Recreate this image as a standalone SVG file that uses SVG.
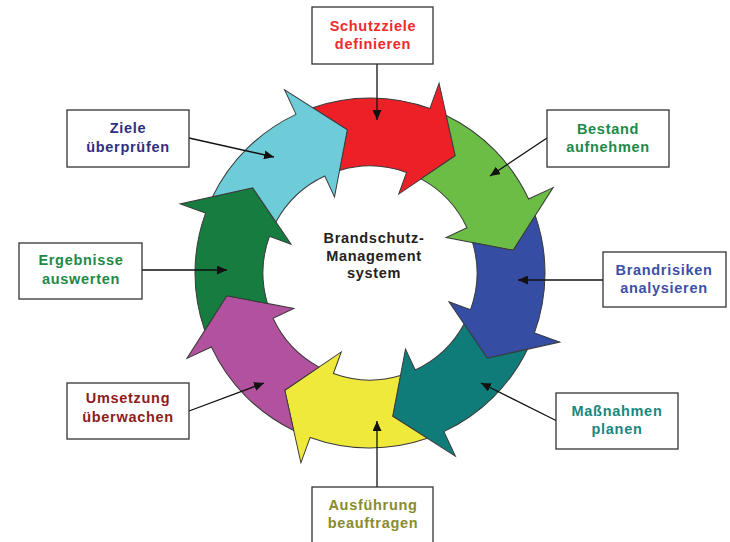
<svg xmlns="http://www.w3.org/2000/svg" width="730" height="542" viewBox="0 0 730 542">
<style>
.seg{stroke:#3a3a3a;stroke-width:1;stroke-linejoin:miter}
.box{fill:#fff;stroke:#333;stroke-width:1.3}
.lbl{font-family:"Liberation Sans",Arial,sans-serif;font-weight:bold;font-size:14.5px;letter-spacing:0.7px;text-anchor:middle}
.ctr{font-family:"Liberation Sans",Arial,sans-serif;font-weight:bold;font-size:14.5px;letter-spacing:0.7px;text-anchor:middle;fill:#222}
.con{stroke:#111;stroke-width:1.3;fill:none;marker-end:url(#ah)}
</style>
<defs>
<path id="arr" d="M -143.62 -99.98 A 175 175 0 0 1 -48.24 -168.22 L -55.68 -194.17 L 0 -145 L -23.15 -80.75 L -29.49 -102.85 A 107 107 0 0 0 -84.93 -65.09 L -102.53 -102.53 Z"/>
<marker id="ah" markerUnits="userSpaceOnUse" markerWidth="11" markerHeight="9" refX="10" refY="4.5" orient="auto">
<path d="M0 0 L10 4.5 L0 9 Z" fill="#111"/>
</marker>
</defs>
<rect width="730" height="542" fill="#fff"/>
<g id="ring">
<use href="#arr" class="seg" fill="#ED2027" transform="translate(370 273) rotate(36)"/>
<use href="#arr" class="seg" fill="#6CBD45" transform="translate(370 273) rotate(81)"/>
<use href="#arr" class="seg" fill="#354DA2" transform="translate(370 273) rotate(126)"/>
<use href="#arr" class="seg" fill="#107C79" transform="translate(370 273) rotate(171)"/>
<use href="#arr" class="seg" fill="#EFE93B" transform="translate(370 273) rotate(216)"/>
<use href="#arr" class="seg" fill="#B2519D" transform="translate(370 273) rotate(261)"/>
<use href="#arr" class="seg" fill="#167C3F" transform="translate(370 273) rotate(306)"/>
<use href="#arr" class="seg" fill="#6ECCD9" transform="translate(370 273) rotate(351)"/>
</g>
<g id="center">
<text class="ctr" x="374" y="243">Brandschutz-</text>
<text class="ctr" x="374" y="261">Management</text>
<text class="ctr" x="374" y="278">system</text>
</g>
<g id="connectors">
<line class="con" x1="377" y1="64" x2="377" y2="120"/>
<line class="con" x1="547" y1="138" x2="490" y2="176"/>
<line class="con" x1="603" y1="280" x2="518" y2="280"/>
<line class="con" x1="557" y1="421" x2="481" y2="383"/>
<line class="con" x1="377" y1="487" x2="377" y2="421"/>
<line class="con" x1="189" y1="411" x2="264" y2="383"/>
<line class="con" x1="142" y1="270" x2="227" y2="270"/>
<line class="con" x1="189" y1="138" x2="274" y2="157"/>
</g>
<g id="n-schutzziele">
<rect class="box" x="312" y="7" width="121" height="57"/>
<text class="lbl" x="373" y="31" fill="#EE2A2D">Schutzziele</text>
<text class="lbl" x="373" y="49" fill="#EE2A2D">definieren</text>
</g>
<g id="n-bestand">
<rect class="box" x="547" y="110" width="122" height="57"/>
<text class="lbl" x="608" y="134" fill="#1D8A46">Bestand</text>
<text class="lbl" x="608" y="152" fill="#1D8A46">aufnehmen</text>
</g>
<g id="n-brandrisiken">
<rect class="box" x="603" y="252" width="123" height="55"/>
<text class="lbl" x="664" y="275" fill="#3C50A7">Brandrisiken</text>
<text class="lbl" x="664" y="293" fill="#3C50A7">analysieren</text>
</g>
<g id="n-massnahmen">
<rect class="box" x="556" y="393" width="122" height="56"/>
<text class="lbl" x="617" y="416" fill="#178880">Maßnahmen</text>
<text class="lbl" x="617" y="434" fill="#178880">planen</text>
</g>
<g id="n-ausfuehrung">
<rect class="box" x="312" y="487" width="121" height="60"/>
<text class="lbl" x="373" y="510" fill="#8A8A2E">Ausführung</text>
<text class="lbl" x="373" y="528" fill="#8A8A2E">beauftragen</text>
</g>
<g id="n-umsetzung">
<rect class="box" x="67" y="383" width="122" height="56"/>
<text class="lbl" x="128" y="403" fill="#8E1C1C">Umsetzung</text>
<text class="lbl" x="128" y="422" fill="#8E1C1C">überwachen</text>
</g>
<g id="n-ergebnisse">
<rect class="box" x="19" y="243" width="123" height="56"/>
<text class="lbl" x="81" y="265" fill="#1D8A46">Ergebnisse</text>
<text class="lbl" x="81" y="284" fill="#1D8A46">auswerten</text>
</g>
<g id="n-ziele">
<rect class="box" x="67" y="110" width="122" height="57"/>
<text class="lbl" x="128" y="133" fill="#2D2F7F">Ziele</text>
<text class="lbl" x="128" y="152" fill="#2D2F7F">überprüfen</text>
</g>
</svg>
